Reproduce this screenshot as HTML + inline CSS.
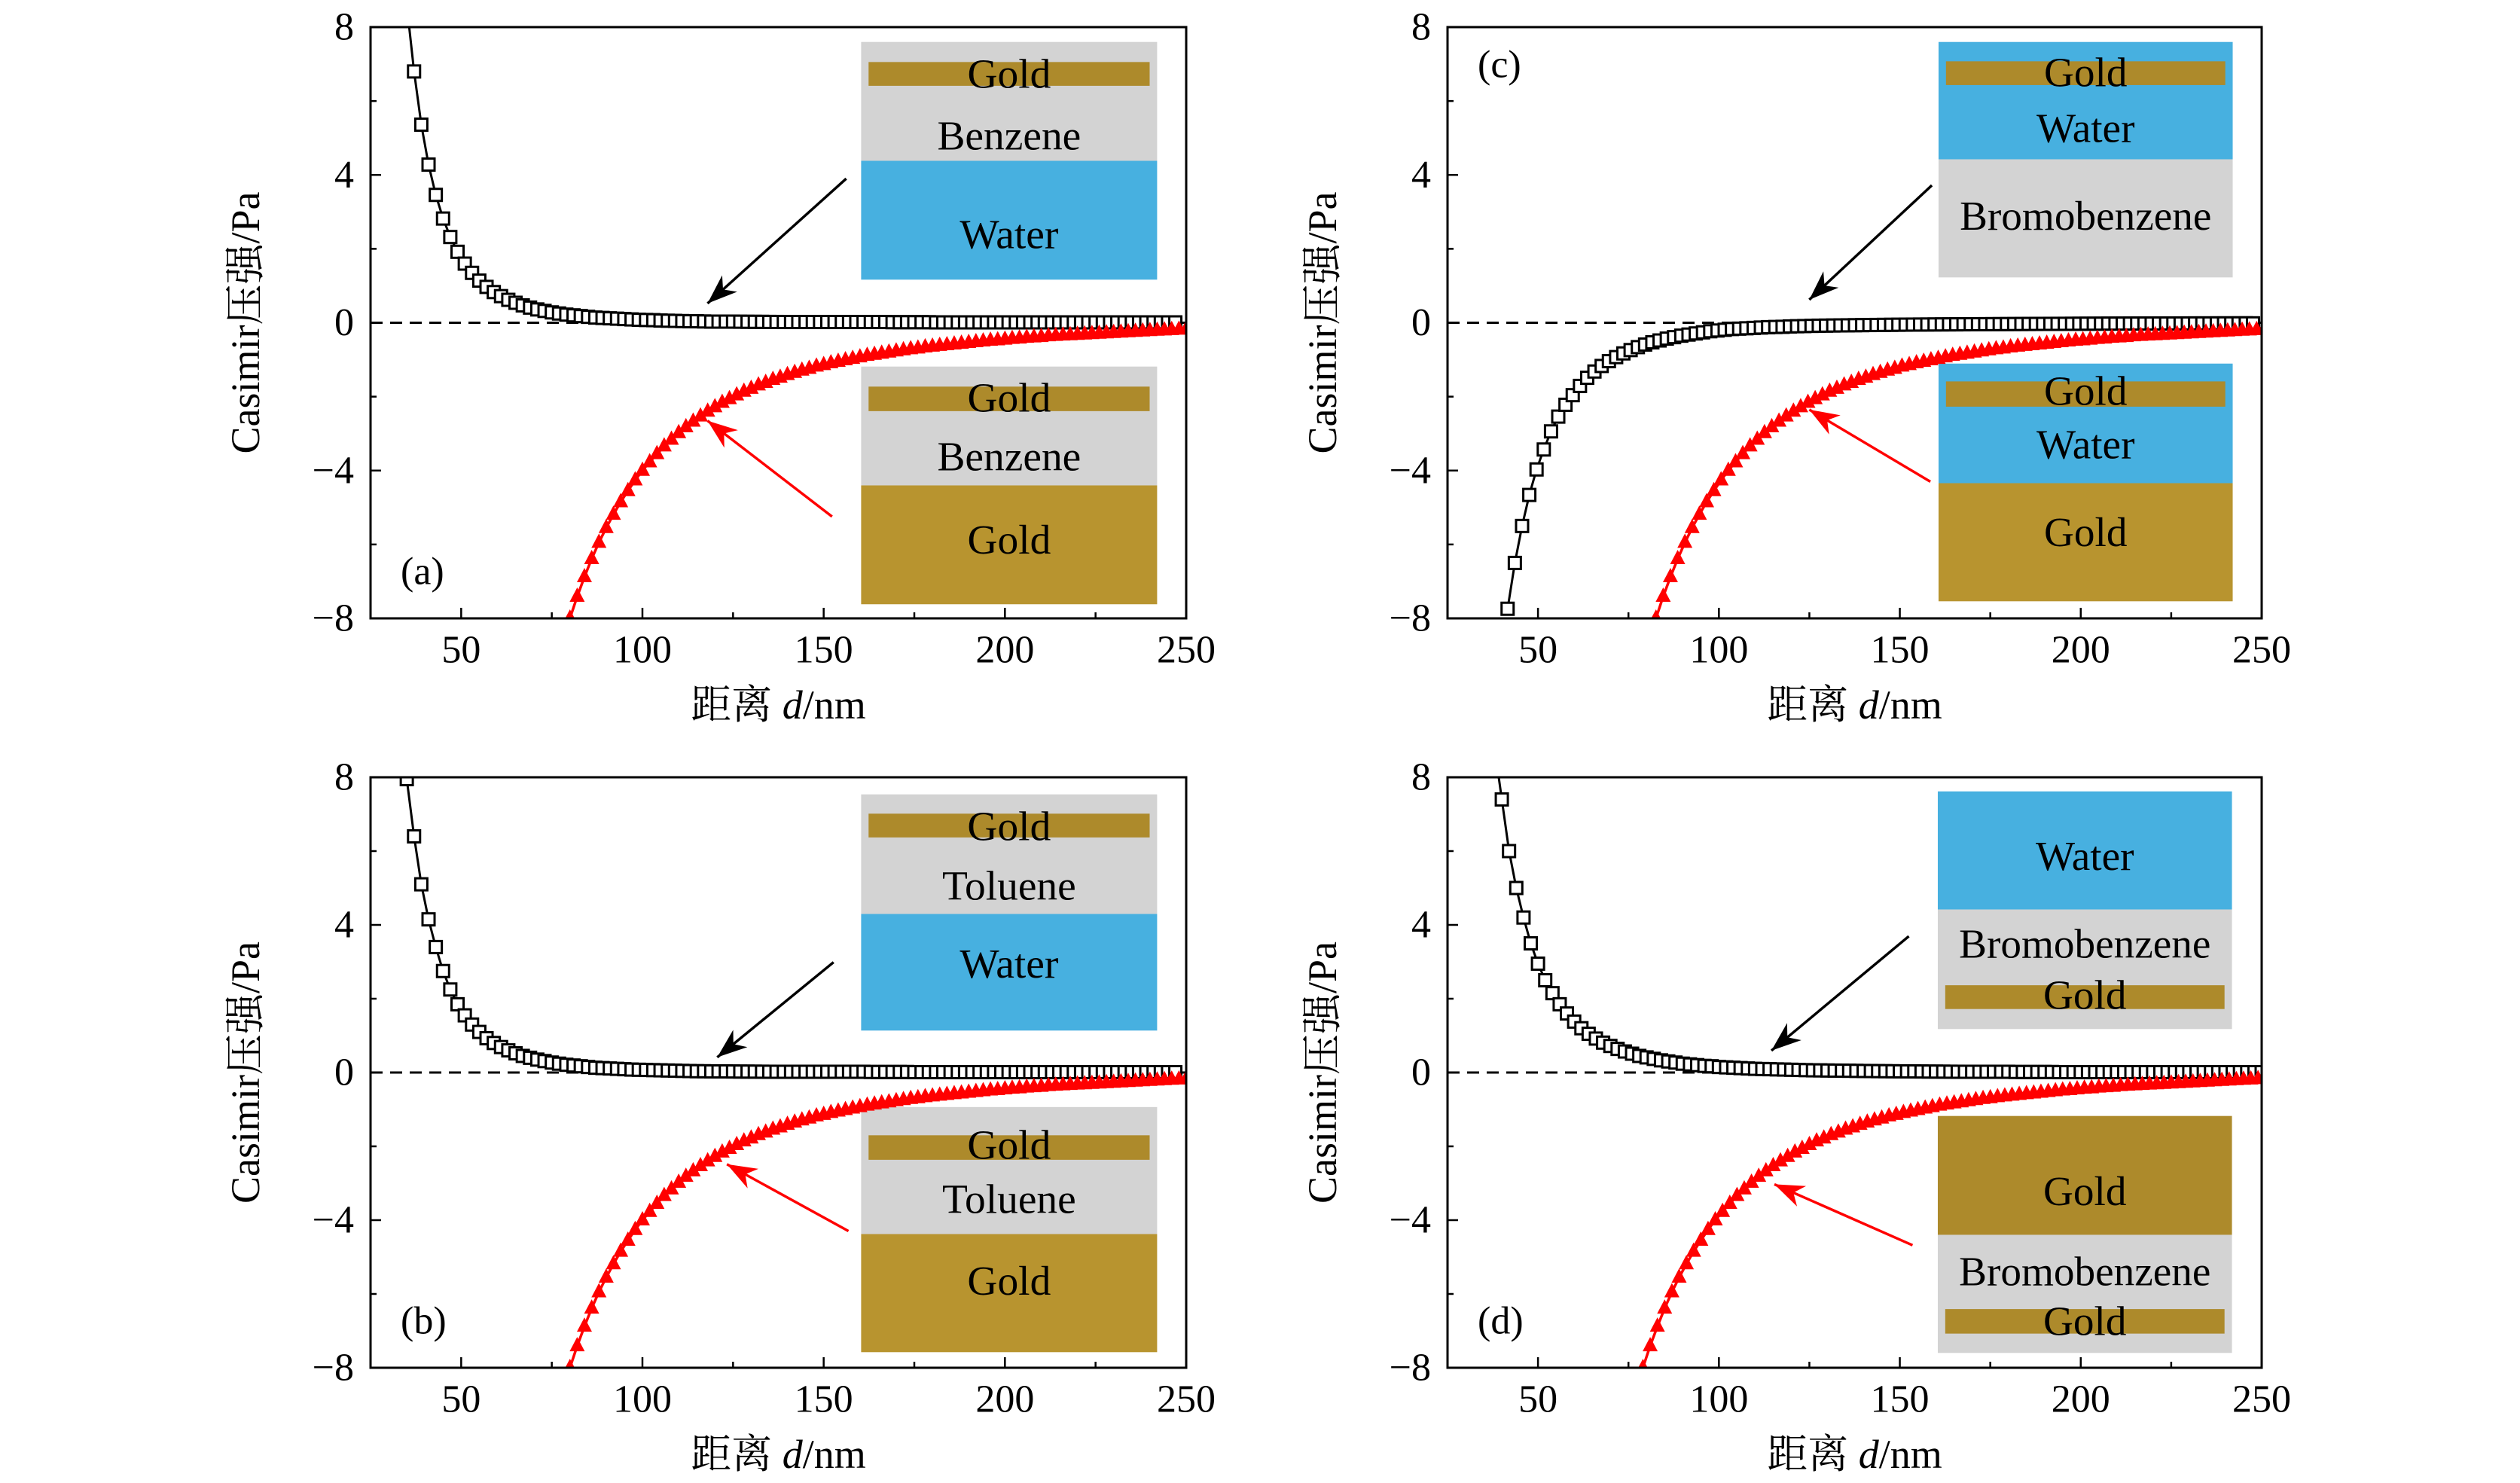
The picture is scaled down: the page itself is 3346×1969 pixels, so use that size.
<!DOCTYPE html>
<html><head><meta charset="utf-8">
<style>
html,body{margin:0;padding:0;background:#fff;}
svg{display:block;}
text{font-family:"Liberation Serif","Noto Serif CJK SC",serif;}
</style></head>
<body>
<svg id="fig" width="3346" height="1969" viewBox="0 0 3346 1969" xmlns="http://www.w3.org/2000/svg">
</svg>
<script>
// ---- data (distance in nm, pressure in Pa) ----
const xTicks = [50, 100, 150, 200, 250];
const yTicks = [-8, -4, 0, 4, 8];
const yTickLabels = ["\u22128", "\u22124", "0", "4", "8"];
const stepNm = 2;

const blackStartA = 35;
const blackA = [8.6,6.80,5.36,4.28,3.46,2.82,2.32,1.92,1.60,1.35,1.14,0.97,0.83,0.72,0.62,0.54,0.47,0.41,0.36,0.32,0.28,0.25,0.22,
0.20,0.18,0.16,0.14,0.13,0.12,0.11,0.10,0.09,0.08,0.075,0.07,0.06,0.055,0.05,0.045,0.04,0.04,0.035,0.03,
0.03,0.03,0.03,0.028,0.026,0.025,0.024,0.022,0.021,0.02,0.02,0.02,0.02,0.02,0.02,0.02,0.02,0.02,0.02,0.02,
0.02,0.02,0.02,0.02,0.015,0.015,0.015,0.015,0.015,0.015,0.01,0.01,0.01,0.01,0.01,0.01,0.01,0.01,0.01,0.01,
0.01,0.01,0.01,0.01,0.01,0.01,0.01,0.01,0.01,0.01,0.01,0.01,0.01,0.01,0.01,0.01,0.01,0.01,0.01,0.01,0.01,0.01,0.01,0.01];

const blackStartB = 35;
const blackB = [7.95,6.40,5.10,4.15,3.40,2.75,2.25,1.85,1.55,1.30,1.10,0.93,0.80,0.69,0.60,0.52,0.45,0.40,0.35,0.31,0.27,0.24,0.21,
0.19,0.17,0.15,0.13,0.12,0.11,0.10,0.09,0.08,0.075,0.07,0.065,0.06,0.055,0.05,0.045,0.04,0.035,0.035,0.03,
0.03,0.03,0.028,0.026,0.025,0.024,0.022,0.021,0.02,0.02,0.02,0.02,0.02,0.02,0.02,0.02,0.02,0.02,0.02,0.02,
0.02,0.015,0.015,0.015,0.015,0.015,0.015,0.01,0.01,0.01,0.01,0.01,0.01,0.01,0.01,0.01,0.01,0.01,0.01,0.01,
0.01,0.01,0.01,0.01,0.01,0.01,0.01,0.01,0.01,0.01,0.01,0.01,0.01,0.01,0.01,0.01,0.01,0.01,0.01,0.01,0.01,0.01,0.01,0.01];

const blackStartC = 41.6;
const blackC = [-7.74,-6.50,-5.50,-4.66,-3.97,-3.43,-2.94,-2.54,-2.22,-1.96,-1.71,-1.49,-1.32,-1.17,-1.04,-0.93,-0.83,-0.74,-0.66,-0.59,
-0.53,-0.48,-0.43,-0.39,-0.35,-0.32,-0.29,-0.26,-0.23,-0.21,-0.19,-0.17,-0.16,-0.15,-0.14,-0.13,-0.12,-0.115,-0.11,-0.10,
-0.095,-0.09,-0.085,-0.08,-0.078,-0.075,-0.072,-0.07,-0.067,-0.065,-0.062,-0.06,-0.058,-0.056,-0.054,-0.052,-0.05,-0.049,-0.048,-0.046,
-0.045,-0.044,-0.043,-0.042,-0.041,-0.04,-0.039,-0.038,-0.037,-0.036,-0.035,-0.034,-0.033,-0.032,-0.031,-0.03,-0.03,-0.029,-0.028,-0.027,
-0.026,-0.026,-0.025,-0.024,-0.024,-0.023,-0.022,-0.022,-0.021,-0.021,-0.02,-0.02,-0.02,-0.019,-0.019,-0.018,-0.018,-0.018,-0.017,-0.017,-0.017,-0.016,-0.016,-0.016];

const blackStartD = 38;
const blackD = [8.8,7.40,6.00,5.00,4.20,3.50,2.95,2.50,2.15,1.85,1.60,1.38,1.20,1.05,0.92,0.81,0.72,0.64,0.57,0.51,0.45,0.41,0.37,0.33,0.30,
0.27,0.24,0.22,0.20,0.18,0.17,0.15,0.14,0.13,0.12,0.11,0.10,0.095,0.09,0.085,0.08,0.075,0.07,0.065,0.06,0.058,0.055,0.052,0.05,0.048,
0.045,0.042,0.04,0.038,0.036,0.034,0.032,0.03,0.03,0.028,0.026,0.025,0.024,0.022,0.021,0.02,0.02,0.02,0.02,0.02,0.02,0.02,0.015,0.015,
0.015,0.015,0.015,0.015,0.01,0.01,0.01,0.01,0.01,0.01,0.01,0.01,0.01,0.01,0.01,0.01,0.01,0.01,0.01,0.01,0.01,0.01,0.01,0.01,0.01,0.01,0.01,0.01,0.01,0.01,0.01,0.01,0.01];

const redStartA = 80, redStartB = 80, redStartC = 82.6, redStartD = 79;
const redValues = [-8.00,-7.41,-6.88,-6.39,-5.95,-5.55,-5.19,-4.85,-4.55,-4.26,-4.00,
-3.77,-3.55,-3.34,-3.16,-2.98,-2.82,-2.67,-2.53,-2.40,-2.28,
-2.16,-2.06,-1.96,-1.86,-1.78,-1.69,-1.62,-1.54,-1.48,-1.41,
-1.35,-1.29,-1.24,-1.18,-1.14,-1.09,-1.05,-1.01,-0.97,-0.93,
-0.89,-0.86,-0.83,-0.80,-0.77,-0.74,-0.71,-0.69,-0.66,-0.64,
-0.62,-0.60,-0.58,-0.56,-0.54,-0.52,-0.50,-0.48,-0.47,-0.45,
-0.43,-0.42,-0.40,-0.39,-0.38,-0.36,-0.35,-0.34,-0.33,-0.32,-0.31,-0.30,-0.29,-0.28,-0.27,-0.26,-0.25,-0.24,-0.23,-0.22,-0.21,-0.20,-0.19,-0.18,-0.17];

// ---- layout ----
const NS = "http://www.w3.org/2000/svg";
const svg = document.getElementById("fig");
const XMIN = 25, XMAX = 250, YMIN = -8, YMAX = 8;
const GOLD1 = "#ad8a2b", GOLD2 = "#b8942f", GRAY = "#d3d3d3", BLUE = "#47b0e0";

// L,T: plot corner; R0,B0: reference frame of inset/arrow coordinates; R,B: actual plot corner
const panels = [
 {id:"a", L:492, R0:1586, R:1575, T:36, B0:832, B:821, bs:blackStartA, bv:blackA, rs:redStartA,
  arrowK:[1130,240,944,408], arrowR:[1111,695,944,566],
  insets:[
   {x:1150,w:397,layers:[[56,216,GRAY],[216,376,BLUE]],band:[83,115],texts:[["Gold",99],["Benzene",182],["Water",315]]},
   {x:1150,w:397,layers:[[493,653,GRAY],[653,813,GOLD2]],band:[520,553],texts:[["Gold",535],["Benzene",614],["Gold",726]]}]},
 {id:"b", L:492, R0:1586, R:1575, T:1032, B0:1827, B:1816, bs:blackStartB, bv:blackB, rs:redStartB,
  arrowK:[1113,1281,957,1409], arrowR:[1133,1643,970,1553],
  insets:[
   {x:1150,w:397,layers:[[1055,1216,GRAY],[1216,1373,BLUE]],band:[1081,1113],texts:[["Gold",1098],["Toluene",1178],["Water",1283]]},
   {x:1150,w:397,layers:[[1476,1647,GRAY],[1647,1806,GOLD2]],band:[1514,1547],texts:[["Gold",1527],["Toluene",1600],["Gold",1710]]}]},
 {id:"c", L:1922, R0:3018, R:3003, T:36, B0:832, B:821, bs:blackStartC, bv:blackC, rs:redStartC,
  arrowK:[2574,249,2409,403], arrowR:[2572,648,2409,551],
  insets:[
   {x:2583,w:396,layers:[[56,214,BLUE],[214,373,GRAY]],band:[82,114],texts:[["Gold",97],["Water",172],["Bromobenzene",290]]},
   {x:2583,w:396,layers:[[489,650,BLUE],[650,809,GOLD2]],band:[513,547],texts:[["Gold",526],["Water",598],["Gold",716]]}]},
 {id:"d", L:1922, R0:3018, R:3003, T:1032, B0:1827, B:1816, bs:blackStartD, bv:blackD, rs:redStartD,
  arrowK:[2543,1246,2358,1400], arrowR:[2548,1662,2362,1580],
  insets:[
   {x:2582,w:396,layers:[[1051,1210,BLUE],[1210,1371,GRAY]],band:[1312,1344],texts:[["Water",1138],["Bromobenzene",1256],["Gold",1325]]},
   {x:2582,w:396,layers:[[1488,1648,GOLD1],[1648,1807,GRAY]],band:[1748,1781],texts:[["Gold",1589],["Bromobenzene",1697],["Gold",1764]]}]}
];

function mk(tag, attrs, parent){
  const e = document.createElementNS(NS, tag);
  for (const k in attrs) e.setAttribute(k, attrs[k]);
  (parent||svg).appendChild(e);
  return e;
}

panels.forEach(p => {
  const g = mk("g", {});
  
  
  const sx = v => p.L + (v - XMIN) / (XMAX - XMIN) * (p.R - p.L);
  const sy = v => p.B - (v - YMIN) / (YMAX - YMIN) * (p.B - p.T);
  const kx = (p.R - p.L) / (p.R0 - p.L), ky = (p.B - p.T) / (p.B0 - p.T);
  const tf = `translate(${p.L},${p.T}) scale(${kx},${ky}) translate(${-p.L},${-p.T})`;

  const defs = mk("defs", {}, g);
  const cp = mk("clipPath", {id:"clip-" + p.id}, defs);
  mk("rect", {x:p.L, y:p.T, width:p.R-p.L, height:p.B-p.T}, cp);

  const deco = mk("g", {transform:tf}, g);

  // insets
  p.insets.forEach((ins, ii) => {
    const ig = mk("g", {}, deco);
    
    
    ins.layers.forEach(ly => {
      const r = mk("rect", {x:ins.x, y:ly[0], width:ins.w, height:ly[1]-ly[0], fill:ly[2]}, ig);
      
      
    });
    const band = mk("rect", {x:ins.x+10, y:ins.band[0], width:ins.w-20, height:ins.band[1]-ins.band[0], fill:GOLD1}, ig);
    
    
    ins.texts.forEach(t => {
      const tx = mk("text", {x:ins.x+ins.w/2, y:t[1], "font-size":56, "text-anchor":"middle", "dominant-baseline":"central", fill:"#000"}, ig);
      tx.textContent = t[0];
      
      
    });
  });

  // zero dashed line
  const zl = mk("line", {x1:p.L, x2:p.R, y1:sy(0), y2:sy(0), stroke:"#000", "stroke-width":3, "stroke-dasharray":"16,10"}, g);
  
  

  const plot = mk("g", {"clip-path":"url(#clip-" + p.id + ")"}, g);

  // black series
  const bg = mk("g", {}, plot);
  
  
  let pts = p.bv.map((v,i) => sx(p.bs + i*stepNm).toFixed(1) + "," + sy(v).toFixed(1)).join(" ");
  mk("polyline", {points:pts, fill:"none", stroke:"#000", "stroke-width":3}, bg);
  p.bv.forEach((v,i) => {
    const cx = sx(p.bs + i*stepNm), cy = sy(v);
    const m = mk("rect", {x:cx-8, y:cy-8, width:16, height:16, fill:"#fff", stroke:"#000", "stroke-width":3}, bg);
    
    
  });

  // red series
  const rg = mk("g", {}, plot);
  
  
  pts = redValues.map((v,i) => sx(p.rs + i*stepNm).toFixed(1) + "," + sy(v).toFixed(1)).join(" ");
  mk("polyline", {points:pts, fill:"none", stroke:"#f00", "stroke-width":3.5}, rg);
  redValues.forEach((v,i) => {
    const cx = sx(p.rs + i*stepNm), cy = sy(v);
    const m = mk("polygon", {points:`${cx},${cy-12} ${cx-10},${cy+7} ${cx+10},${cy+7}`, fill:"#f00"}, rg);
    
    
  });

  // frame
  const fr = mk("rect", {x:p.L, y:p.T, width:p.R-p.L, height:p.B-p.T, fill:"none", stroke:"#000", "stroke-width":3}, g);
  
  

  // x ticks
  const xa = mk("g", {}, g);
  
  
  xTicks.forEach(t => {
    mk("line", {x1:sx(t), x2:sx(t), y1:p.B, y2:p.B-14, stroke:"#000", "stroke-width":2.5}, xa);
    mk("line", {x1:sx(t-25), x2:sx(t-25), y1:p.B, y2:p.B-8, stroke:"#000", "stroke-width":2.5}, xa);
    const tl = mk("text", {x:sx(t), y:p.B+42, "font-size":52, "text-anchor":"middle", "dominant-baseline":"central"}, xa);
    tl.textContent = t;
    
    
  });
  // y ticks
  const ya = mk("g", {}, g);
  
  
  yTicks.forEach((t,i) => {
    mk("line", {x1:p.L, x2:p.L+14, y1:sy(t), y2:sy(t), stroke:"#000", "stroke-width":2.5}, ya);
    if (t < 8) mk("line", {x1:p.L, x2:p.L+8, y1:sy(t+2), y2:sy(t+2), stroke:"#000", "stroke-width":2.5}, ya);
    const tl = mk("text", {x:p.L-22, y:sy(t), "font-size":52, "text-anchor":"end", "dominant-baseline":"central"}, ya);
    tl.textContent = yTickLabels[i];
    
    
  });

  // axis titles
  const xt = mk("text", {x:(p.L+p.R)/2, y:p.B+115, "font-size":54, "text-anchor":"middle", "dominant-baseline":"central"}, g);
  xt.innerHTML = '距离 <tspan font-style="italic">d</tspan>/nm';
  
  
  const cy = (p.T+p.B)/2, cx = p.L-166;
  const yt = mk("text", {x:cx, y:cy, "font-size":54, "text-anchor":"middle", "dominant-baseline":"central", transform:`rotate(-90 ${cx} ${cy})`}, g);
  yt.textContent = "Casimir压强/Pa";
  
  

  // panel label
  const isTopLeft = (p.id === "c");
  const pl = mk("text", {x:p.L+40, y: isTopLeft ? p.T+50 : p.B-62, "font-size":52, "dominant-baseline":"central"}, g);
  pl.textContent = "(" + p.id + ")";
  
  

  // arrows
  const ak = p.arrowK, ar = p.arrowR;
  const a1 = mk("line", {x1:ak[0], y1:ak[1], x2:ak[2], y2:ak[3], stroke:"#000", "stroke-width":3.5}, deco);
  
  
  const a2 = mk("line", {x1:ar[0], y1:ar[1], x2:ar[2], y2:ar[3], stroke:"#f00", "stroke-width":3.5}, deco);
  
  
  [[ak,"#000"],[ar,"#f00"]].forEach(([a,col]) => {
    const ang = Math.atan2(a[3]-a[1], a[2]-a[0]);
    const L = 40, W = 15;
    const bx = a[2] - L*Math.cos(ang), by = a[3] - L*Math.sin(ang);
    const nx = -Math.sin(ang)*W, ny = Math.cos(ang)*W;
    const mx = a[2] - 0.7*L*Math.cos(ang), my = a[3] - 0.7*L*Math.sin(ang);
    const h = mk("polygon", {points:`${a[2]},${a[3]} ${bx+nx},${by+ny} ${mx},${my} ${bx-nx},${by-ny}`, fill:col}, deco);
    
    
  });
});
</script>
</body></html>
